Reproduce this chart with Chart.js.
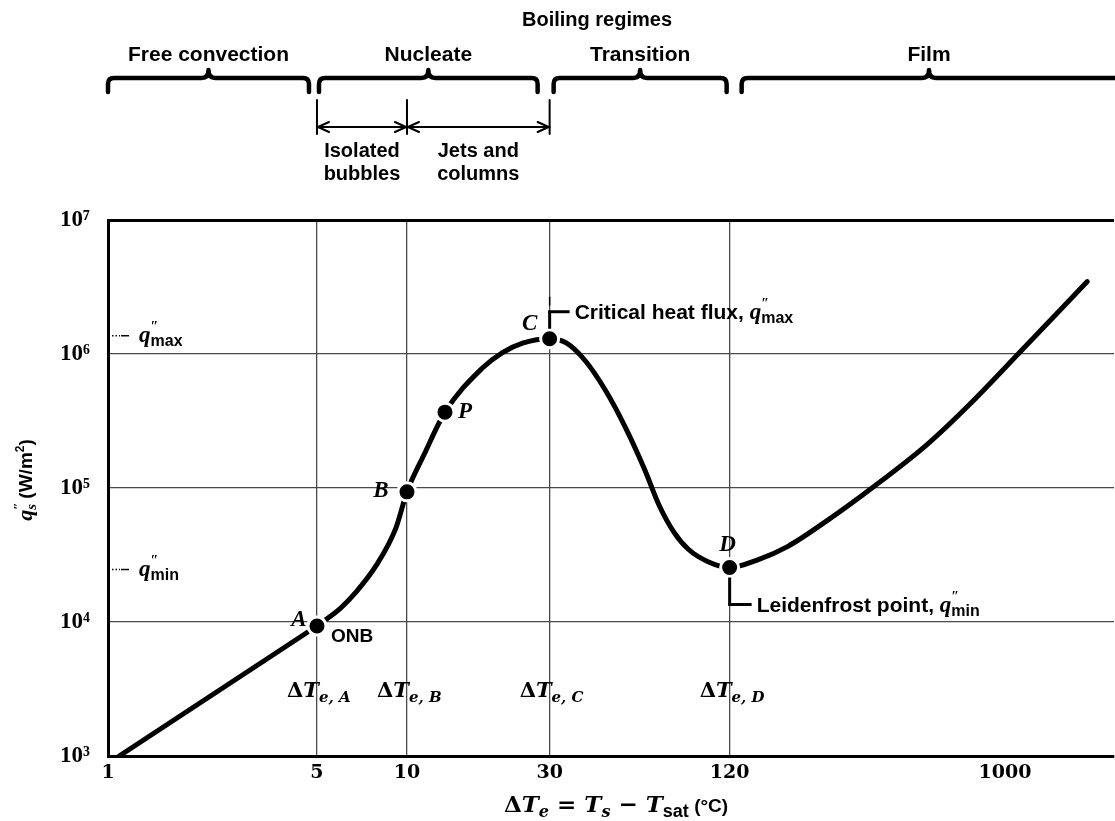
<!DOCTYPE html>
<html>
<head>
<meta charset="utf-8">
<script src="https://cdn.jsdelivr.net/npm/chart.js@4.4.1/dist/chart.umd.min.js"></script>
<style>
  html, body { margin: 0; padding: 0; background: #fff; overflow: hidden; }
  #wrap { width: 1115px; height: 821px; position: relative; }
  #boil { display: block; }
</style>
</head>
<body>
<div id="wrap"><canvas id="boil"></canvas></div>
<script>
// ---- data ----
const xTicks = [1, 5, 10, 30, 120, 1000];
const xGridAt = [5, 10, 30, 120];
const yTicks = [1e3, 1e4, 1e5, 1e6, 1e7];

// free convection branch (straight on log-log)
const freeT = [1.09, 5];
const freeQ = [1000, 9340];

// nucleate -> transition -> film branch
const boilT = [5, 6.0, 6.75, 7.87, 9.18, 10, 11.4, 13.4, 17.8, 20.8, 24.5, 30,
               34.1, 39.6, 46.1, 53.6, 62.3, 69.7, 78.1, 87.3, 101.6, 120,
               149, 188, 257, 359, 550, 761, 1107, 1885];
const boilQ = [9340, 12700, 16700, 26200, 50200, 93600, 177000, 368000, 779000, 1020000, 1210000, 1300000,
               1210000, 883000, 536000, 287000, 138000, 74400, 46900, 34900, 28200, 25500,
               29100, 36700, 58100, 100000, 212000, 420000, 1000000, 3470000];

// marked points
const keyNames = ['A', 'B', 'P', 'C', 'D'];
const keyT = [5, 10, 13.4, 30, 120];
const keyQ = [9340, 93600, 368000, 1300000, 25500];

const FS = '"Liberation Sans", Arial, sans-serif';
const FD = '"DejaVu Serif", serif';
const FT = '"Liberation Serif", "Times New Roman", serif';
const SUP = {3:'³',4:'⁴',5:'⁵',6:'⁶',7:'⁷'};

const pts = (xs, ys) => xs.map((x, i) => ({x: x, y: ys[i]}));

/* draw a run of text pieces: [text, font, dy, advance] */
function rich(ctx, x, y, parts, align){
  let w = 0
  parts.forEach(p => { ctx.font = p[1]; p.w = p[3] !== undefined ? p[3] : ctx.measureText(p[0]).width; w += p.w })
  let cx = align === 'center' ? x - w/2 : x
  ctx.textAlign = 'left'; ctx.textBaseline = 'alphabetic'
  parts.forEach(p => { ctx.font = p[1]; ctx.fillText(p[0], cx, y + (p[2] || 0)); cx += p.w })
}
function qpp(sub){
  return [['q', `italic bold 23px ${FT}`], ['″', `bold 14px ${FT}`, -11, 0], [sub, `bold 16px ${FS}`, 4]]
}
function deltaT(sub){
  return [['Δ', `bold 21px ${FD}`], ['T', `italic bold 21px ${FD}`], [sub, `italic bold 15px ${FD}`, 5]]
}
function brace(ctx, x0, x1, mid, y){
  ctx.beginPath()
  ctx.moveTo(x0, y + 14); ctx.lineTo(x0, y + 6)
  ctx.quadraticCurveTo(x0, y, x0 + 6, y)
  ctx.lineTo(mid - 7, y)
  ctx.quadraticCurveTo(mid, y, mid, y - 8)
  ctx.quadraticCurveTo(mid, y, mid + 7, y)
  ctx.lineTo(x1 - 6, y)
  ctx.quadraticCurveTo(x1, y, x1, y + 6)
  ctx.lineTo(x1, y + 14)
  ctx.stroke()
}
function arrowHead(ctx, x, y, dir){
  ctx.beginPath()
  ctx.moveTo(x - dir*11, y - 5); ctx.lineTo(x, y); ctx.lineTo(x - dir*11, y + 5)
  ctx.stroke()
}
function line(ctx, x0, y0, x1, y1){
  ctx.beginPath(); ctx.moveTo(x0, y0); ctx.lineTo(x1, y1); ctx.stroke()
}

/* -------------------- annotations -------------------- */
const notes = {
  id: 'notes',
  afterDraw(chart){
    const ctx = chart.ctx, xs = chart.scales.x, ys = chart.scales.y
    const X = v => xs.getPixelForValue(v), Y = v => ys.getPixelForValue(v)
    ctx.save()
    ctx.fillStyle = '#000'; ctx.strokeStyle = '#000'; ctx.lineCap = 'round'; ctx.lineJoin = 'round'

    // regimes header
    rich(ctx, 597, 26, [['Boiling regimes', `bold 20px ${FS}`]], 'center')
    const x1 = X(1), x5 = X(5), x10 = X(10), x30 = X(30), x120 = X(120)
    const braces = [
      ['Free convection', x1, x5 - 8],
      ['Nucleate', x5 + 2, x30 - 12],
      ['Transition', x30 + 4, x120 - 3],
      ['Film', x120 + 12, chart.width + 30]
    ]
    ctx.lineWidth = 4.5
    braces.forEach(b => {
      const mid = b[0] === 'Film' ? 929 : (b[1] + b[2]) / 2
      brace(ctx, b[1], b[2], mid, 78)
      rich(ctx, mid, 61, [[b[0], `bold 21px ${FS}`]], 'center')
    })
    // isolated bubbles / jets and columns arrows
    ctx.lineWidth = 2
    ;[x5, x10, x30].forEach(x => line(ctx, x, 100, x, 134))
    line(ctx, x5, 127, x10, 127); line(ctx, x10, 127, x30, 127)
    arrowHead(ctx, x5 + 1, 127, -1); arrowHead(ctx, x10 - 1, 127, 1)
    arrowHead(ctx, x10 + 1, 127, -1); arrowHead(ctx, x30 - 1, 127, 1)
    rich(ctx, (x5 + x10) / 2, 157, [['Isolated', `bold 20px ${FS}`]], 'center')
    rich(ctx, (x5 + x10) / 2, 180, [['bubbles', `bold 20px ${FS}`]], 'center')
    rich(ctx, (x10 + x30) / 2, 157, [['Jets and', `bold 20px ${FS}`]], 'center')
    rich(ctx, (x10 + x30) / 2, 180, [['columns', `bold 20px ${FS}`]], 'center')

    // point letters
    const off = {A: [-18, -6], B: [-26, -1], P: [20, 0], C: [-20, -15], D: [-2, -22]}
    keyNames.forEach((n, i) => {
      const px = X(keyT[i]), py = Y(keyQ[i])
      ctx.font = `italic bold 23px ${FT}`; ctx.textAlign = 'center'; ctx.textBaseline = 'middle'
      ctx.fillText(n, px + off[n][0], py + off[n][1])
    })
    const ax = X(keyT[0]), ay = Y(keyQ[0])
    rich(ctx, ax + 14, ay + 16, [['ONB', `bold 19px ${FS}`]])

    // critical heat flux leader
    const cx = X(keyT[3]), cy = Y(keyQ[3])
    ctx.lineWidth = 3; ctx.lineCap = 'butt'
    line(ctx, cx, cy - 10, cx, cy - 27); line(ctx, cx - 1.5, cy - 27, cx + 20, cy - 27)
    ctx.lineWidth = 1.5; line(ctx, cx, cy - 33, cx, cy - 42)
    rich(ctx, cx + 25, cy - 20, [['Critical heat flux, ', `bold 21px ${FS}`]].concat(qpp('max')))

    // Leidenfrost leader
    const dx = X(keyT[4]), dy = Y(keyQ[4])
    ctx.lineWidth = 3
    line(ctx, dx, dy + 10, dx, dy + 37); line(ctx, dx - 1.5, dy + 37, dx + 22, dy + 37)
    rich(ctx, dx + 27, dy + 44, [['Leidenfrost point, ', `bold 21px ${FS}`]].concat(qpp('min')))

    // q''max / q''min marks on the left axis
    ctx.lineWidth = 1.5
    ctx.setLineDash([1.5, 2]); line(ctx, 112, cy - 3, 120, cy - 3); line(ctx, 112, dy + 2, 120, dy + 2)
    ctx.setLineDash([]); line(ctx, 121, cy - 3, 129, cy - 3); line(ctx, 121, dy + 2, 129, dy + 2)
    rich(ctx, 139, cy + 3, qpp('max'))
    rich(ctx, 139, dy + 8, qpp('min'))

    // delta T labels
    ;[['e, A', 0], ['e, B', 1], ['e, C', 3], ['e, D', 4]].forEach(d => {
      rich(ctx, X(keyT[d[1]]) - 30, 697, deltaT(d[0]))
    })

    // axis titles
    rich(ctx, 616, 812, [
      ['Δ', `bold 23px ${FD}`], ['T', `italic bold 23px ${FD}`], ['e', `italic bold 16px ${FD}`, 5],
      [' = ', `bold 23px ${FD}`], ['T', `italic bold 23px ${FD}`], ['s', `italic bold 16px ${FD}`, 5],
      [' − ', `bold 23px ${FD}`], ['T', `italic bold 23px ${FD}`], ['sat', `bold 18px ${FS}`, 5],
      [' (°C)', `bold 19px ${FS}`]
    ], 'center')
    ctx.translate(25, 480); ctx.rotate(-Math.PI / 2)
    rich(ctx, 0, 7, [
      ['q', `italic bold 22px ${FT}`], ['″', `bold 13px ${FT}`, -10, 0], ['s', `italic bold 15px ${FT}`, 4],
      [' (W/m', `bold 19px ${FS}`], ['2', `bold 12px ${FS}`, -8], [')', `bold 19px ${FS}`]
    ], 'center')
    ctx.restore()
  }
}

new Chart(document.getElementById('boil'), {
  type: 'line',
  data: {
    datasets: [
      { data: pts(keyT, keyQ), showLine: false, pointRadius: 9, pointBackgroundColor: '#000',
        pointBorderColor: '#fff', pointBorderWidth: 3, order: 0 },
      { data: pts(boilT, boilQ), borderColor: '#000', borderWidth: 5, pointRadius: 0,
        cubicInterpolationMode: 'monotone', borderCapStyle: 'round', order: 1 },
      { data: pts(freeT, freeQ), borderColor: '#000', borderWidth: 5, pointRadius: 0,
        tension: 0, borderCapStyle: 'round', order: 2 }
    ]
  },
  options: {
    responsive: true, maintainAspectRatio: false, animation: false,
    layout: { autoPadding: false, padding: { top: 220, right: 1, left: 0, bottom: 0 } },
    plugins: { legend: { display: false }, tooltip: { enabled: false } },
    scales: {
      x: {
        type: 'logarithmic', min: 1, max: 2316,
        afterBuildTicks: s => { s.ticks = xTicks.map(v => ({value: v})) },
        afterFit: s => { s.height = 65; s.paddingLeft = 0; s.paddingRight = 0 },
        border: { color: '#000', width: 3 },
        grid: { drawTicks: false,
          color: c => xGridAt.includes(c.tick && c.tick.value) ? '#4a4a4a' : 'rgba(0,0,0,0)',
          lineWidth: 1.3 },
        ticks: { autoSkip: false, maxRotation: 0, padding: 6, color: '#000',
          font: { family: '"DejaVu Serif", serif', size: 19, weight: 'bold' },
          callback: v => String(v) }
      },
      y: {
        type: 'logarithmic', min: 1e3, max: 1e7,
        afterBuildTicks: s => { s.ticks = yTicks.map(v => ({value: v})) },
        afterFit: s => { s.width = 108; s.paddingTop = 0; s.paddingBottom = 0 },
        border: { color: '#000', width: 3 },
        grid: { drawTicks: false,
          color: c => { const v = c.tick && c.tick.value; return v === 1e7 ? '#000' : (v === 1e3 ? 'rgba(0,0,0,0)' : '#4a4a4a') },
          lineWidth: c => (c.tick && c.tick.value === 1e7) ? 3 : 1.3 },
        ticks: { autoSkip: false, padding: 18, color: '#000',
          font: { family: '"Liberation Serif", serif', size: 23, weight: 'bold' },
          callback: v => '10' + SUP[Math.round(Math.log10(v))] }
      }
    }
  },
  plugins: [notes]
})
</script>
</body>
</html>
